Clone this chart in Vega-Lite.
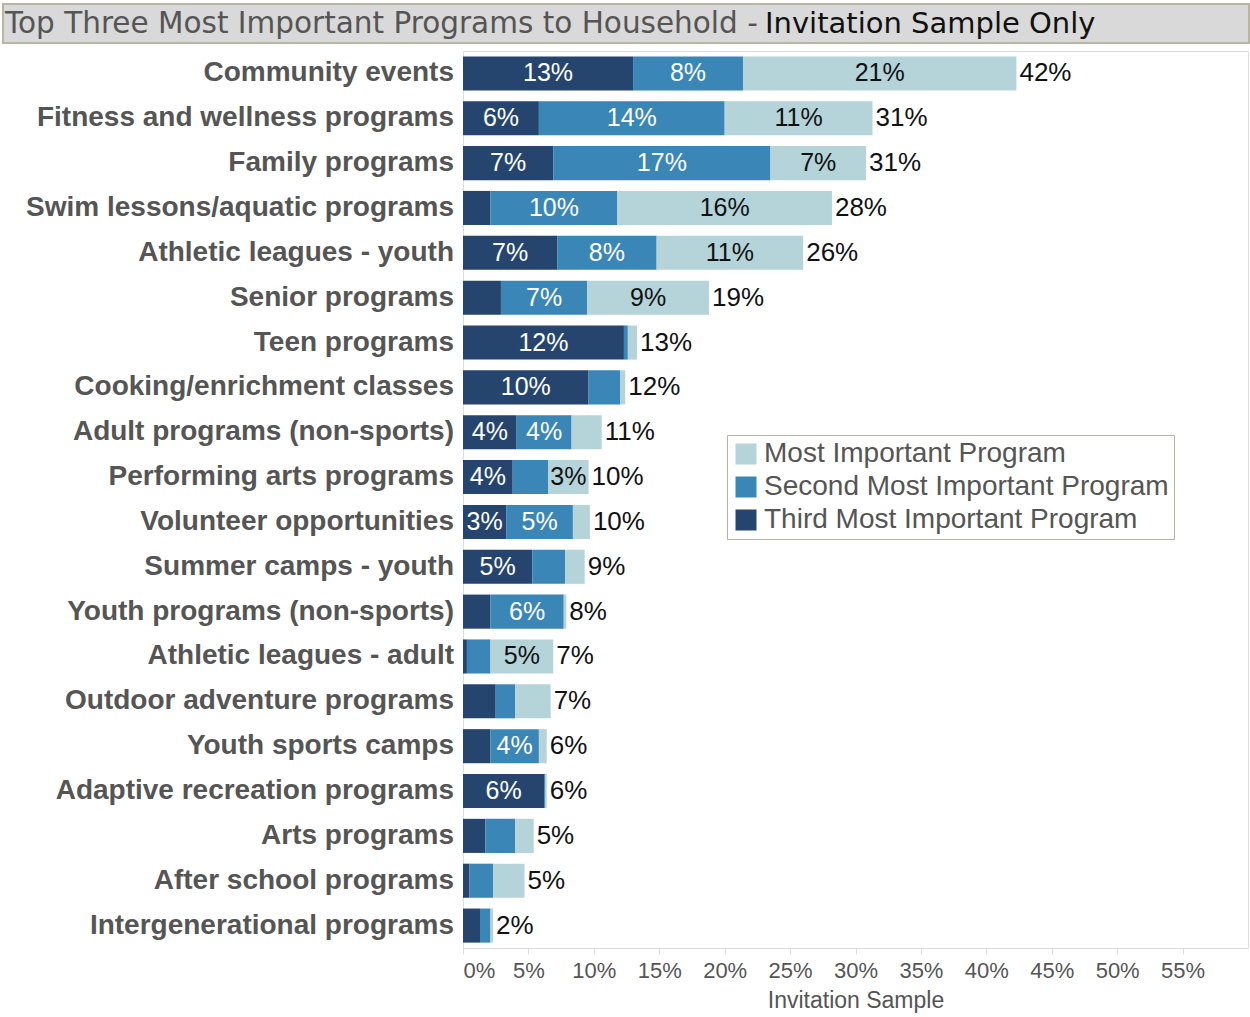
{
  "$schema": "https://vega.github.io/schema/vega-lite/v6.json",
  "padding": {"left": 2, "top": 3, "right": 2, "bottom": 2},
  "background": "white",
  "spacing": 6,
  "title": {"text": "Invitation Sample Only", "anchor": "start", "frame": "bounds", "offset": -36, "dx": 763, "font": "DejaVu Sans", "fontSize": 29, "fontWeight": "normal", "color": "#111111"},
  "config": {"view": {"stroke": "#dddddd"}},
  "datasets": {
    "programs": [
      {"program": "Community events", "level": "Third Most Important Program", "rank": 3, "share": 0.130},
      {"program": "Community events", "level": "Second Most Important Program", "rank": 2, "share": 0.084},
      {"program": "Community events", "level": "Most Important Program", "rank": 1, "share": 0.209},
      {"program": "Fitness and wellness programs", "level": "Third Most Important Program", "rank": 3, "share": 0.058},
      {"program": "Fitness and wellness programs", "level": "Second Most Important Program", "rank": 2, "share": 0.142},
      {"program": "Fitness and wellness programs", "level": "Most Important Program", "rank": 1, "share": 0.113},
      {"program": "Family programs", "level": "Third Most Important Program", "rank": 3, "share": 0.069},
      {"program": "Family programs", "level": "Second Most Important Program", "rank": 2, "share": 0.166},
      {"program": "Family programs", "level": "Most Important Program", "rank": 1, "share": 0.073},
      {"program": "Swim lessons/aquatic programs", "level": "Third Most Important Program", "rank": 3, "share": 0.021},
      {"program": "Swim lessons/aquatic programs", "level": "Second Most Important Program", "rank": 2, "share": 0.097},
      {"program": "Swim lessons/aquatic programs", "level": "Most Important Program", "rank": 1, "share": 0.164},
      {"program": "Athletic leagues - youth", "level": "Third Most Important Program", "rank": 3, "share": 0.072},
      {"program": "Athletic leagues - youth", "level": "Second Most Important Program", "rank": 2, "share": 0.076},
      {"program": "Athletic leagues - youth", "level": "Most Important Program", "rank": 1, "share": 0.112},
      {"program": "Senior programs", "level": "Third Most Important Program", "rank": 3, "share": 0.029},
      {"program": "Senior programs", "level": "Second Most Important Program", "rank": 2, "share": 0.066},
      {"program": "Senior programs", "level": "Most Important Program", "rank": 1, "share": 0.093},
      {"program": "Teen programs", "level": "Third Most Important Program", "rank": 3, "share": 0.123},
      {"program": "Teen programs", "level": "Second Most Important Program", "rank": 2, "share": 0.003},
      {"program": "Teen programs", "level": "Most Important Program", "rank": 1, "share": 0.007},
      {"program": "Cooking/enrichment classes", "level": "Third Most Important Program", "rank": 3, "share": 0.096},
      {"program": "Cooking/enrichment classes", "level": "Second Most Important Program", "rank": 2, "share": 0.024},
      {"program": "Cooking/enrichment classes", "level": "Most Important Program", "rank": 1, "share": 0.004},
      {"program": "Adult programs (non-sports)", "level": "Third Most Important Program", "rank": 3, "share": 0.041},
      {"program": "Adult programs (non-sports)", "level": "Second Most Important Program", "rank": 2, "share": 0.042},
      {"program": "Adult programs (non-sports)", "level": "Most Important Program", "rank": 1, "share": 0.023},
      {"program": "Performing arts programs", "level": "Third Most Important Program", "rank": 3, "share": 0.038},
      {"program": "Performing arts programs", "level": "Second Most Important Program", "rank": 2, "share": 0.027},
      {"program": "Performing arts programs", "level": "Most Important Program", "rank": 1, "share": 0.031},
      {"program": "Volunteer opportunities", "level": "Third Most Important Program", "rank": 3, "share": 0.033},
      {"program": "Volunteer opportunities", "level": "Second Most Important Program", "rank": 2, "share": 0.051},
      {"program": "Volunteer opportunities", "level": "Most Important Program", "rank": 1, "share": 0.013},
      {"program": "Summer camps - youth", "level": "Third Most Important Program", "rank": 3, "share": 0.053},
      {"program": "Summer camps - youth", "level": "Second Most Important Program", "rank": 2, "share": 0.025},
      {"program": "Summer camps - youth", "level": "Most Important Program", "rank": 1, "share": 0.015},
      {"program": "Youth programs (non-sports)", "level": "Third Most Important Program", "rank": 3, "share": 0.021},
      {"program": "Youth programs (non-sports)", "level": "Second Most Important Program", "rank": 2, "share": 0.056},
      {"program": "Youth programs (non-sports)", "level": "Most Important Program", "rank": 1, "share": 0.002},
      {"program": "Athletic leagues - adult", "level": "Third Most Important Program", "rank": 3, "share": 0.003},
      {"program": "Athletic leagues - adult", "level": "Second Most Important Program", "rank": 2, "share": 0.018},
      {"program": "Athletic leagues - adult", "level": "Most Important Program", "rank": 1, "share": 0.048},
      {"program": "Outdoor adventure programs", "level": "Third Most Important Program", "rank": 3, "share": 0.025},
      {"program": "Outdoor adventure programs", "level": "Second Most Important Program", "rank": 2, "share": 0.015},
      {"program": "Outdoor adventure programs", "level": "Most Important Program", "rank": 1, "share": 0.027},
      {"program": "Youth sports camps", "level": "Third Most Important Program", "rank": 3, "share": 0.021},
      {"program": "Youth sports camps", "level": "Second Most Important Program", "rank": 2, "share": 0.037},
      {"program": "Youth sports camps", "level": "Most Important Program", "rank": 1, "share": 0.006},
      {"program": "Adaptive recreation programs", "level": "Third Most Important Program", "rank": 3, "share": 0.062},
      {"program": "Adaptive recreation programs", "level": "Second Most Important Program", "rank": 2, "share": 0.001},
      {"program": "Adaptive recreation programs", "level": "Most Important Program", "rank": 1, "share": 0.001},
      {"program": "Arts programs", "level": "Third Most Important Program", "rank": 3, "share": 0.017},
      {"program": "Arts programs", "level": "Second Most Important Program", "rank": 2, "share": 0.023},
      {"program": "Arts programs", "level": "Most Important Program", "rank": 1, "share": 0.014},
      {"program": "After school programs", "level": "Third Most Important Program", "rank": 3, "share": 0.005},
      {"program": "After school programs", "level": "Second Most Important Program", "rank": 2, "share": 0.018},
      {"program": "After school programs", "level": "Most Important Program", "rank": 1, "share": 0.024},
      {"program": "Intergenerational programs", "level": "Third Most Important Program", "rank": 3, "share": 0.013},
      {"program": "Intergenerational programs", "level": "Second Most Important Program", "rank": 2, "share": 0.008},
      {"program": "Intergenerational programs", "level": "Most Important Program", "rank": 1, "share": 0.002}
    ]
  },
  "vconcat": [
    {
      "width": 1246,
      "height": 39,
      "view": {"stroke": null},
      "data": {"values": [{"part": "header"}]},
      "title": {"text": "Top Three Most Important Programs to Household - ", "anchor": "start", "frame": "group", "offset": -36, "dx": 2, "font": "DejaVu Sans", "fontSize": 29.5, "fontWeight": "normal", "color": "#555555"},
      "mark": {"type": "rect", "fill": "#d9d9d9", "stroke": "#b9b5a5", "strokeWidth": 2},
      "encoding": {}
    },
    {
      "spacing": 8,
      "hconcat": [
        {
          "width": 451,
          "height": 897,
          "view": {"stroke": null},
          "data": {"name": "programs"},
          "transform": [{"aggregate": [{"op": "count", "as": "n"}], "groupby": ["program"]}],
          "mark": {"type": "text", "align": "right", "baseline": "middle", "font": "Liberation Sans", "fontWeight": "bold", "fontSize": 28, "color": "#555555"},
          "encoding": {
            "y": {
              "field": "program",
              "type": "nominal",
              "sort": ["Community events", "Fitness and wellness programs", "Family programs", "Swim lessons/aquatic programs", "Athletic leagues - youth", "Senior programs", "Teen programs", "Cooking/enrichment classes", "Adult programs (non-sports)", "Performing arts programs", "Volunteer opportunities", "Summer camps - youth", "Youth programs (non-sports)", "Athletic leagues - adult", "Outdoor adventure programs", "Youth sports camps", "Adaptive recreation programs", "Arts programs", "After school programs", "Intergenerational programs"],
              "scale": {"paddingInner": 0.24, "paddingOuter": 0.12},
              "axis": null
            },
            "x": {"value": "width"},
            "text": {"field": "program", "type": "nominal"}
          }
        },
        {
          "width": 785,
          "height": 897,
          "data": {"name": "programs"},
          "encoding": {
            "y": {
              "field": "program",
              "type": "nominal",
              "sort": ["Community events", "Fitness and wellness programs", "Family programs", "Swim lessons/aquatic programs", "Athletic leagues - youth", "Senior programs", "Teen programs", "Cooking/enrichment classes", "Adult programs (non-sports)", "Performing arts programs", "Volunteer opportunities", "Summer camps - youth", "Youth programs (non-sports)", "Athletic leagues - adult", "Outdoor adventure programs", "Youth sports camps", "Adaptive recreation programs", "Arts programs", "After school programs", "Intergenerational programs"],
              "scale": {"paddingInner": 0.24, "paddingOuter": 0.12},
              "axis": {"title": null, "labels": false, "ticks": false, "domainColor": "#dddddd"}
            }
          },
          "layer": [
            {
              "mark": {"type": "bar"},
              "encoding": {
                "x": {"field": "share", "type": "quantitative", "stack": "zero", "title": "Invitation Sample", "scale": {"domain": [0, 0.6], "nice": false},
                  "axis": {"format": ".0%", "values": [0, 0.05, 0.1, 0.15, 0.2, 0.25, 0.3, 0.35, 0.4, 0.45, 0.5, 0.55], "labelFlush": true, "grid": false, "labelFont": "Liberation Sans", "labelFontSize": 22, "labelColor": "#555555", "tickColor": "#dddddd", "domainColor": "#dddddd", "tickSize": 6, "labelPadding": 6, "titleFont": "Liberation Sans", "titleFontSize": 23, "titleFontWeight": "normal", "titleColor": "#555555", "titlePadding": 8}},
                "color": {"field": "level", "type": "nominal",
                  "scale": {"domain": ["Most Important Program", "Second Most Important Program", "Third Most Important Program"], "range": ["#b4d4da", "#3a86b7", "#26456e"]},
                  "legend": {"title": null, "orient": "none", "legendX": 724, "legendY": 431, "fillColor": "white", "strokeColor": "#b5b2a6", "padding": 5, "symbolType": "square", "symbolSize": 441, "symbolStrokeWidth": 0, "labelFont": "Liberation Sans", "labelFontSize": 28, "labelColor": "#555555", "labelOffset": 4, "labelLimit": 600, "rowPadding": 5}},
                "order": {"field": "rank", "sort": "descending"}
              }
            },
            {
              "transform": [
                {"stack": "share", "groupby": ["program"], "sort": [{"field": "rank", "order": "descending"}], "as": ["s0", "s1"]},
                {"filter": "datum.share >= 0.03"},
                {"fold": ["s0", "s1"], "as": ["edge", "pos"]},
                {"aggregate": [{"op": "mean", "field": "pos", "as": "mid"}, {"op": "max", "field": "share", "as": "share"}], "groupby": ["program", "rank"]}
              ],
              "mark": {"type": "text", "font": "Liberation Sans", "fontSize": 25, "align": "center", "baseline": "middle"},
              "encoding": {
                "x": {"field": "mid", "type": "quantitative", "title": "Invitation Sample", "scale": {"domain": [0, 0.6], "nice": false}},
                "text": {"field": "share", "type": "quantitative", "format": ".0%"},
                "color": {"condition": {"test": "datum.rank == 1", "value": "#111111"}, "value": "#ffffff"}
              }
            },
            {
              "transform": [
                {"aggregate": [{"op": "sum", "field": "share", "as": "total"}], "groupby": ["program"]}
              ],
              "mark": {"type": "text", "font": "Liberation Sans", "fontSize": 26, "align": "left", "baseline": "middle", "dx": 3, "color": "#111111"},
              "encoding": {
                "x": {"field": "total", "type": "quantitative", "title": "Invitation Sample", "scale": {"domain": [0, 0.6], "nice": false}},
                "text": {"field": "total", "type": "quantitative", "format": ".0%"}
              }
            }
          ]
        }
      ]
    }
  ]
}
